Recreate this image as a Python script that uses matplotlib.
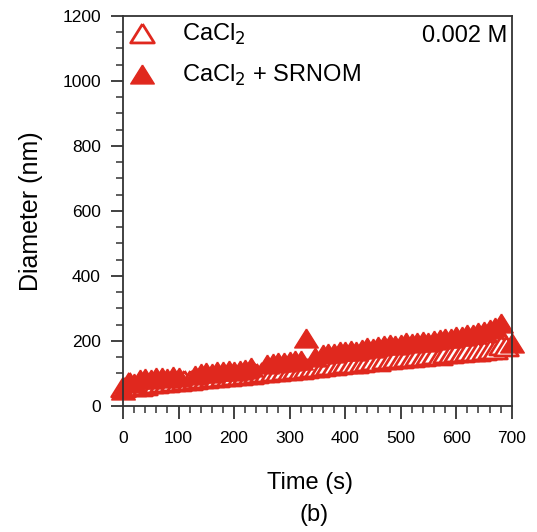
import numpy as np
import matplotlib.pyplot as plt
from matplotlib.ticker import MultipleLocator

plt.rcParams['font.family'] = ['Liberation Sans', 'DejaVu Sans']

# CaCl2 (open triangles)
t_cacl2 = [0, 10, 20, 30, 40, 50, 60, 70, 80, 90, 100, 110, 120, 130, 140, 150,
           160, 170, 180, 190, 200, 210, 220, 230, 240, 250, 260, 270, 280, 290,
           300, 310, 320, 330, 340, 350, 360, 370, 380, 390, 400, 410, 420, 430,
           440, 450, 460, 470, 480, 490, 500, 510, 520, 530, 540, 550, 560, 570,
           580, 590, 600, 610, 620, 630, 640, 650, 660, 670, 680, 690]
d_cacl2 = [58, 75, 60, 62, 64, 70, 72, 74, 73, 76, 78, 80, 79, 84, 86, 85,
           88, 90, 92, 91, 95, 96, 98, 97, 100, 104, 103, 106, 108, 110,
           112, 115, 113, 118, 121, 120, 124, 126, 125, 129, 131, 133, 132, 135,
           138, 140, 139, 143, 145, 147, 146, 150, 152, 155, 153, 157, 160, 158,
           162, 164, 166, 165, 168, 170, 170, 172, 174, 176, 188, 184]

# CaCl2 + SRNOM (filled triangles)
t_srnom = [0, 10, 20, 30, 40, 50, 60, 70, 80, 90, 100, 130, 140, 150, 160,
           170, 180, 190, 200, 210, 220, 230, 260, 270, 280, 290, 300, 310,
           320, 330, 345, 360, 370, 380, 390, 400, 410, 420, 430, 440, 450, 460,
           470, 480, 490, 500, 510, 520, 530, 540, 550, 560, 570, 580, 590, 600,
           610, 620, 630, 640, 650, 660, 670, 680, 700]
d_srnom = [50, 75, 70, 82, 86, 84, 88, 90, 87, 92, 90, 96, 100, 104, 102,
           106, 108, 110, 106, 112, 114, 120, 128, 132, 135, 134, 138, 142,
           140, 208, 150, 160, 164, 162, 168, 170, 172, 170, 176, 180, 178, 184,
           186, 190, 188, 192, 196, 194, 198, 200, 198, 204, 206, 210, 208, 214,
           216, 220, 222, 228, 232, 236, 242, 255, 195]

red = '#E0281E'

fig = plt.figure(figsize=(5.37, 5.32), dpi=100)
ax = fig.add_axes([0.229, 0.237, 0.724, 0.733])

tri = [(0, 0.8), (-1, -0.8), (1, -0.8), (0, 0.8)]
ax.plot(t_cacl2, d_cacl2, linestyle='none', marker=tri, markersize=17,
        markerfacecolor='white', markeredgecolor=red, markeredgewidth=2,
        label='CaCl$_2$', clip_on=False)
ax.plot(t_srnom, d_srnom, linestyle='none', marker=tri, markersize=17,
        markerfacecolor=red, markeredgecolor=red, markeredgewidth=1,
        label='CaCl$_2$ + SRNOM', clip_on=False)

ax.set_xlim(0, 700)
ax.set_ylim(0, 1200)
ax.xaxis.set_major_locator(MultipleLocator(100))
ax.xaxis.set_minor_locator(MultipleLocator(20))
ax.yaxis.set_major_locator(MultipleLocator(200))
ax.yaxis.set_minor_locator(MultipleLocator(50))
ax.tick_params(which='major', direction='out', length=9, width=1.3,
               labelsize=12.5, color='#333333')
ax.tick_params(which='minor', direction='out', length=5, width=1.1, color='#333333')
ax.tick_params(axis='x', which='major', pad=9)
ax.tick_params(axis='y', which='major', pad=7)
for s in ax.spines.values():
    s.set_linewidth(1.3)
    s.set_color('#333333')

ax.set_ylabel('Diameter (nm)', fontsize=18, labelpad=14)
fig.text(0.577, 0.092, 'Time (s)', ha='center', va='center', fontsize=17)
fig.text(0.585, 0.032, '(b)', ha='center', va='center', fontsize=17)

ax.legend(loc='upper left', bbox_to_anchor=(-0.02, 1.008), frameon=False,
          fontsize=17, handlelength=1.5, handletextpad=0.95,
          borderaxespad=0, labelspacing=0.65)
ax.text(0.99, 0.948, '0.002 M', transform=ax.transAxes, ha='right', va='center',
        fontsize=17)

fig.savefig('out.png', dpi=100)
